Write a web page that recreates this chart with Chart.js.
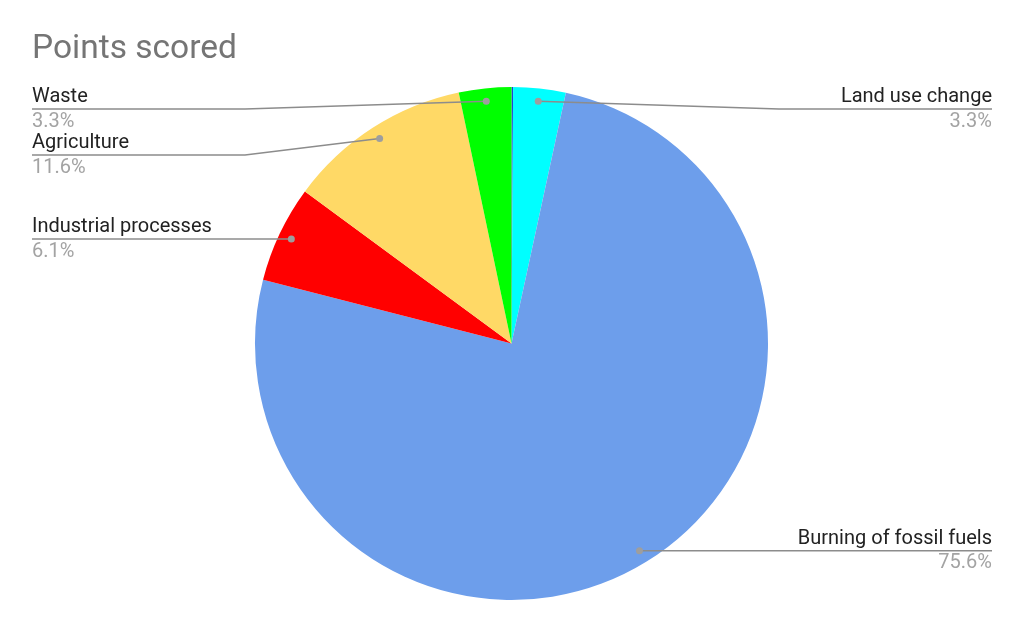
<!DOCTYPE html>
<html>
<head>
<meta charset="utf-8">
<script src="https://cdn.jsdelivr.net/npm/chart.js@4/dist/chart.umd.min.js"></script>
<style>
  html, body { margin: 0; padding: 0; background: #fff; }
  #wrap { width: 1024px; height: 633px; position: relative; }
</style>
</head>
<body>
<div id="wrap"><canvas id="pieChart"></canvas></div>
<script>
// Daten
const chartTitle = 'Points scored';
const categories = ['Other', 'Land use change', 'Burning of fossil fuels', 'Industrial processes', 'Agriculture', 'Waste'];
const values = [0.1, 3.3, 75.6, 6.1, 11.6, 3.3];
const sliceColors = ['#1f3fd6', '#00ffff', '#6d9eeb', '#ff0000', '#ffd966', '#00ff00'];

const FONT = 'Roboto, "Liberation Sans", Arial, sans-serif';

// Titel + Beschriftungen mit Führungslinien
const labelPlugin = {
    id: 'sliceLabels',
    afterDatasetsDraw(chart) {
        const ctx = chart.ctx;
        const meta = chart.getDatasetMeta(0);
        const total = values.reduce((a, b) => a + b, 0);
        const left = [];
        const right = [];

        meta.data.forEach((arc, i) => {
            const pct = values[i] / total * 100;
            if (pct < 1) return; // zu kleine Stücke ohne Label
            const mid = (arc.startAngle + arc.endAngle) / 2;
            const r = arc.outerRadius * 0.95;
            const item = {
                i: i,
                pct: pct,
                px: arc.x + Math.cos(mid) * r,
                py: arc.y + Math.sin(mid) * r
            };
            (item.px < arc.x ? left : right).push(item);
        });

        ctx.save();

        // Titel
        ctx.font = '33.5px ' + FONT;
        ctx.fillStyle = '#757575';
        ctx.textAlign = 'left';
        ctx.textBaseline = 'alphabetic';
        ctx.fillText(chartTitle, 32, 58);

        const drawSide = (items, isLeft) => {
            items.sort((a, b) => a.py - b.py);
            let prevY = 109 - 46;
            const textX = isLeft ? 32 : 992;
            const breakX = isLeft ? 245 : 779;
            items.forEach(it => {
                const lineY = Math.max(it.py, prevY + 46);
                prevY = lineY;

                // Führungslinie
                ctx.strokeStyle = '#8c8c8c';
                ctx.lineWidth = 1.5;
                ctx.beginPath();
                ctx.moveTo(textX, lineY);
                ctx.lineTo(breakX, lineY);
                ctx.lineTo(it.px, it.py);
                ctx.stroke();

                // Punkt
                ctx.fillStyle = '#9e9e9e';
                ctx.beginPath();
                ctx.arc(it.px, it.py, 3.5, 0, Math.PI * 2);
                ctx.fill();

                // Texte
                ctx.font = '20px ' + FONT;
                ctx.textAlign = isLeft ? 'left' : 'right';
                ctx.fillStyle = '#222222';
                ctx.fillText(categories[it.i], textX, lineY - 7);
                ctx.fillStyle = '#a3a3a3';
                ctx.fillText(it.pct.toFixed(1) + '%', textX, lineY + 17.5);
            });
        };

        drawSide(left, true);
        drawSide(right, false);
        ctx.restore();
    }
};

const ctx = document.getElementById('pieChart').getContext('2d');
new Chart(ctx, {
    type: 'pie',
    data: {
        labels: categories,
        datasets: [{
            data: values,
            backgroundColor: sliceColors,
            borderWidth: 0,
            hoverOffset: 0
        }]
    },
    options: {
        responsive: true,
        maintainAspectRatio: false,
        animation: false,
        layout: {
            padding: { top: 87, bottom: 33, left: 0, right: 1 }
        },
        plugins: {
            legend: { display: false },
            tooltip: { enabled: false },
            title: { display: false }
        }
    },
    plugins: [labelPlugin]
});
</script>
</body>
</html>
